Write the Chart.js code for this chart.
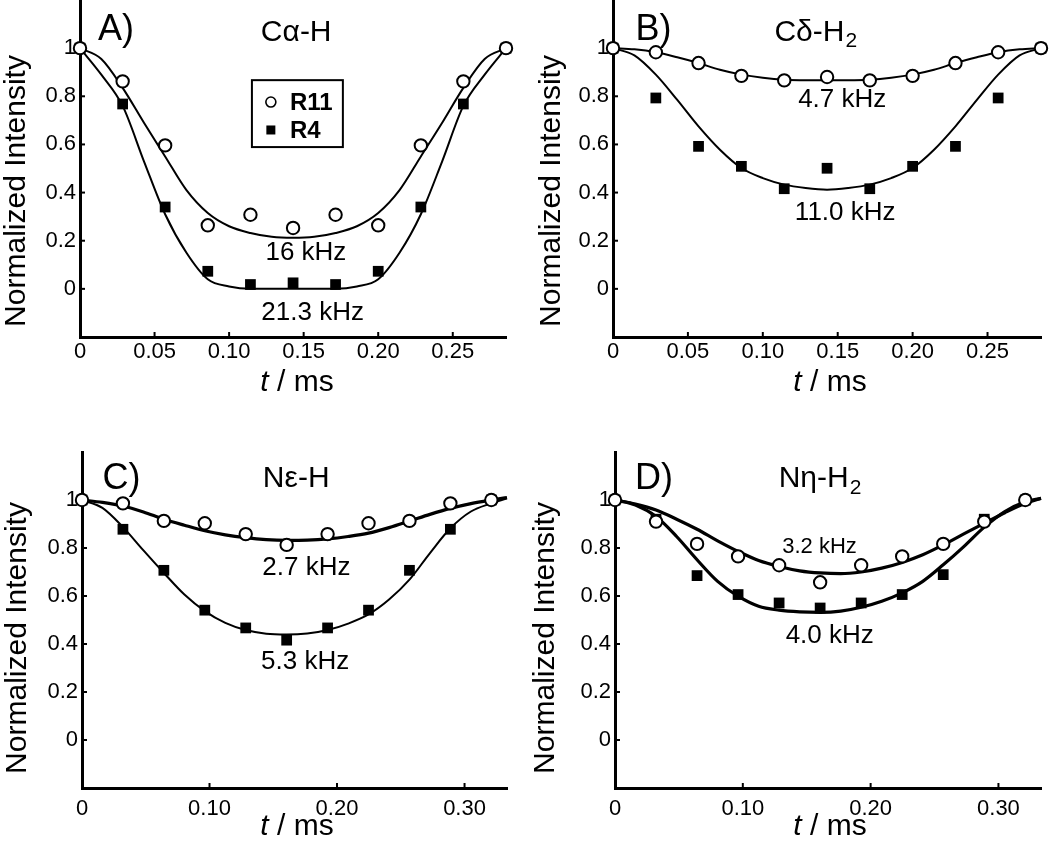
<!DOCTYPE html>
<html lang="en">
<head>
<meta charset="UTF-8">
<title>Normalized Intensity vs t</title>
<script src="https://cdn.jsdelivr.net/npm/chart.js"></script>
<style>
  body { margin: 0; background: #fff; }
  #wrap { position: relative; width: 1050px; height: 848px; }
  #wrap canvas { position: absolute; }
</style>
</head>
<body>
<div id="wrap">
  <canvas id="cA" width="525" height="424" style="left:0;top:0"></canvas>
  <canvas id="cB" width="525" height="424" style="left:525px;top:0"></canvas>
  <canvas id="cC" width="525" height="424" style="left:0;top:424px"></canvas>
  <canvas id="cD" width="525" height="424" style="left:525px;top:424px"></canvas>
</div>
<script>
// ---- data ----
// time points (ms)
const tAB = [0, 0.0286, 0.0571, 0.0857, 0.1143, 0.1429, 0.1714, 0.2, 0.2286, 0.2571, 0.2857];
const tCD = [0, 0.0321, 0.0642, 0.0963, 0.1284, 0.1605, 0.1926, 0.2247, 0.2568, 0.2889, 0.321];
// x positions of the fitted curves
const fitTAB = [0, 0.0143, 0.0286, 0.0429, 0.0571, 0.0714, 0.0857, 0.1, 0.1143, 0.1286, 0.1429,
                0.1571, 0.1714, 0.1857, 0.2, 0.2143, 0.2286, 0.2429, 0.2571, 0.2714, 0.2857];
const fitTCD = [0, 0.016, 0.0321, 0.0482, 0.0642, 0.0803, 0.0963, 0.1124, 0.1284, 0.1445, 0.1605,
                0.1766, 0.1926, 0.2087, 0.2247, 0.2408, 0.2568, 0.2729, 0.2889, 0.305, 0.321, 0.3333];

// A) C-alpha-H
const r11A = [1.0, 0.862, 0.596, 0.264, 0.308, 0.253, 0.308, 0.264, 0.596, 0.862, 1.0];
const r4A  = [1.0, 0.768, 0.340, 0.073, 0.018, 0.025, 0.018, 0.073, 0.340, 0.768, 1.0];
const fitA16 = [1.0, 0.955, 0.835, 0.69, 0.55, 0.41, 0.315, 0.26, 0.232, 0.216, 0.212,
                0.216, 0.232, 0.26, 0.315, 0.41, 0.55, 0.69, 0.835, 0.955, 1.0];
const fitA21 = [1.0, 0.89, 0.76, 0.53, 0.31, 0.15, 0.04, 0.01, 0.0, 0.0, 0.0,
                0.0, 0.0, 0.01, 0.04, 0.15, 0.31, 0.53, 0.76, 0.89, 1.0];

// B) C-delta-H2
const r11B = [1.0, 0.983, 0.938, 0.885, 0.866, 0.880, 0.866, 0.885, 0.938, 0.983, 1.0];
const r4B  = [1.0, 0.793, 0.592, 0.509, 0.416, 0.501, 0.416, 0.509, 0.592, 0.793, 1.0];
const fitB47 = [1.0, 0.995, 0.983, 0.962, 0.938, 0.91, 0.89, 0.877, 0.869, 0.867, 0.867,
                0.867, 0.869, 0.877, 0.89, 0.91, 0.938, 0.962, 0.983, 0.995, 1.0];
const fitB11 = [1.0, 0.97, 0.89, 0.785, 0.675, 0.578, 0.502, 0.46, 0.433, 0.419, 0.412,
                0.419, 0.433, 0.46, 0.502, 0.578, 0.675, 0.785, 0.89, 0.97, 1.0];

// C) N-epsilon-H
const r11C = [1.0, 0.986, 0.913, 0.903, 0.858, 0.813, 0.858, 0.903, 0.913, 0.986, 1.0];
const r4C  = [1.0, 0.878, 0.707, 0.541, 0.467, 0.416, 0.467, 0.541, 0.707, 0.878, 1.0];
const fitC27 = [1.0, 0.99, 0.975, 0.95, 0.92, 0.895, 0.872, 0.855, 0.843, 0.835, 0.832,
                0.833, 0.838, 0.848, 0.862, 0.885, 0.912, 0.94, 0.965, 0.985, 1.0, 1.01];
const fitC53 = [1.0, 0.967, 0.887, 0.79, 0.696, 0.606, 0.537, 0.488, 0.458, 0.443, 0.44,
                0.444, 0.458, 0.485, 0.523, 0.585, 0.668, 0.779, 0.882, 0.952, 0.986, 1.007];

// D) N-eta-H2
const r11D = [1.0, 0.910, 0.817, 0.765, 0.728, 0.657, 0.728, 0.765, 0.817, 0.910, 1.0];
const r4D  = [1.0, 0.92, 0.685, 0.606, 0.571, 0.550, 0.571, 0.606, 0.689, 0.92, 1.0];
const fitD32 = [1.0, 0.983, 0.958, 0.92, 0.878, 0.83, 0.786, 0.748, 0.723, 0.705, 0.696,
                0.693, 0.7, 0.716, 0.74, 0.772, 0.813, 0.859, 0.903, 0.947, 0.986, 1.007];
const fitD40 = [1.0, 0.979, 0.931, 0.848, 0.751, 0.661, 0.599, 0.557, 0.541, 0.534, 0.532,
                0.537, 0.553, 0.578, 0.613, 0.661, 0.730, 0.806, 0.887, 0.952, 0.993, 1.007];

// ticks
const yTicks = [0, 0.2, 0.4, 0.6, 0.8, 1];
const yTickLabels = ['0', '0.2', '0.4', '0.6', '0.8', '1'];
const xTicksAB = [0, 0.05, 0.10, 0.15, 0.20, 0.25];
const xTickLabelsAB = ['0', '0.05', '0.10', '0.15', '0.20', '0.25'];
const xTicksCD = [0, 0.10, 0.20, 0.30];
const xTickLabelsCD = ['0', '0.10', '0.20', '0.30'];

const FONT = '"Liberation Sans", Arial, Helvetica, sans-serif';

const pts = (xs, ys) => ys.map((v, i) => ({ x: xs[i], y: v }));

// inward tick marks + all free text (labels, headers, kHz notes, legend box)
const panelText = {
    id: 'panelText',
    beforeDatasetsDraw(chart) {
        const ctx = chart.ctx, a = chart.chartArea;
        const xs = chart.scales.x, ys = chart.scales.y;
        ctx.save();
        ctx.strokeStyle = '#000';
        ctx.lineWidth = 2;
        xs.ticks.forEach(t => {
            const x = xs.getPixelForValue(t.value);
            ctx.beginPath(); ctx.moveTo(x, a.bottom); ctx.lineTo(x, a.bottom - 5); ctx.stroke();
        });
        ys.ticks.forEach(t => {
            const y = ys.getPixelForValue(t.value);
            ctx.beginPath(); ctx.moveTo(a.left, y); ctx.lineTo(a.left + 5, y); ctx.stroke();
        });
        ctx.restore();
    },
    afterDatasetsDraw(chart, args, o) {
        const ctx = chart.ctx;
        const px = v => chart.scales.x.getPixelForValue(v);
        const py = v => chart.scales.y.getPixelForValue(v);
        ctx.save();
        ctx.fillStyle = '#000';
        ctx.textBaseline = 'middle';

        // panel letter
        ctx.font = '36px ' + FONT;
        ctx.textAlign = 'left';
        ctx.fillText(o.letter, px(o.letterAt[0]), py(o.letterAt[1]));

        // header, with optional subscript
        ctx.font = '30px ' + FONT;
        const w1 = ctx.measureText(o.header).width;
        ctx.font = '21px ' + FONT;
        const w2 = o.sub ? ctx.measureText(o.sub).width : 0;
        let hx = px(o.headerAt[0]) - (w1 + w2) / 2, hy = py(o.headerAt[1]);
        ctx.font = '30px ' + FONT;
        ctx.fillText(o.header, hx, hy);
        if (o.sub) {
            ctx.font = '21px ' + FONT;
            ctx.fillText(o.sub, hx + w1 + 1, hy + 9);
        }

        // coupling notes
        ctx.textAlign = 'center';
        o.notes.forEach(n => {
            ctx.font = n.size + 'px ' + FONT;
            ctx.fillText(n.text, px(n.at[0]), py(n.at[1]));
        });

        // legend box
        if (o.legend) {
            const L = o.legend;
            const x1 = px(L.box[0]), y1 = py(L.box[1]), x2 = px(L.box[2]), y2 = py(L.box[3]);
            ctx.lineWidth = 2;
            ctx.strokeStyle = '#000';
            ctx.strokeRect(x1, y1, x2 - x1, y2 - y1);
            ctx.font = 'bold 24px ' + FONT;
            ctx.textAlign = 'left';
            L.rows.forEach(r => {
                const mx = px(L.markX), my = py(r.y);
                if (r.style === 'circle') {
                    ctx.beginPath(); ctx.arc(mx, my, 5, 0, Math.PI * 2);
                    ctx.fillStyle = '#fff'; ctx.fill();
                    ctx.lineWidth = 1.6; ctx.stroke();
                } else {
                    ctx.fillStyle = '#000';
                    ctx.fillRect(mx - 4.5, my - 4.5, 9, 9);
                }
                ctx.fillStyle = '#000';
                ctx.fillText(r.text, px(L.textX), my + 1);
            });
        }

        // y title
        ctx.font = '30px ' + FONT;
        ctx.textAlign = 'center';
        ctx.save();
        ctx.translate(o.yTitleAt[0], o.yTitleAt[1]);
        ctx.rotate(-Math.PI / 2);
        ctx.fillText('Normalized Intensity', 0, 0);
        ctx.restore();

        // x title: italic t + " / ms"
        ctx.textAlign = 'left';
        ctx.font = 'italic 30px ' + FONT;
        const tw = ctx.measureText('t').width;
        ctx.font = '30px ' + FONT;
        const rw = ctx.measureText(' / ms').width;
        const sx = o.xTitleAt[0] - (tw + rw) / 2;
        ctx.font = 'italic 30px ' + FONT;
        ctx.fillText('t', sx, o.xTitleAt[1]);
        ctx.font = '30px ' + FONT;
        ctx.fillText(' / ms', sx + tw, o.xTitleAt[1]);
        ctx.restore();
    }
};

function makePanel(id, p) {
    const datasets = [
        { label: 'R11', data: pts(p.t, p.r11), showLine: false, pointStyle: 'circle',
          pointRadius: 6.2, pointBorderWidth: 2, pointBackgroundColor: '#fff',
          pointBorderColor: '#000', order: 0, clip: false },
        { label: 'R4', data: pts(p.t, p.r4), showLine: false, pointStyle: 'rect',
          pointRadius: 7.6, pointBorderWidth: 0, pointBackgroundColor: '#000',
          pointBorderColor: '#000', order: 1, clip: false },
        { label: 'fit R11', data: pts(p.fitT, p.fit1), showLine: true, pointRadius: 0,
          borderColor: '#000', borderWidth: p.lw1, cubicInterpolationMode: 'monotone',
          order: 2, clip: false },
        { label: 'fit R4', data: pts(p.fitT, p.fit2), showLine: true, pointRadius: 0,
          borderColor: '#000', borderWidth: p.lw2, cubicInterpolationMode: 'monotone',
          order: 3, clip: false }
    ];
    new Chart(document.getElementById(id), {
        type: 'scatter',
        data: { datasets },
        options: {
            responsive: false,
            animation: false,
            events: [],
            layout: { autoPadding: false,
                      padding: { top: p.top, right: p.right, left: 0, bottom: 0 } },
            scales: {
                x: {
                    type: 'linear', min: 0, max: p.xMax,
                    border: { display: true, color: '#000', width: 3 },
                    grid: { display: false, drawTicks: false },
                    ticks: { color: '#000', font: { family: FONT, size: 22 }, padding: p.xPad,
                             autoSkip: false, maxRotation: 0,
                             callback: (v, i) => p.xLabels[i] },
                    afterBuildTicks: s => { s.ticks = p.xTicks.map(v => ({ value: v })); },
                    afterFit: s => { s.height = p.xAxisH; s.paddingLeft = 0; s.paddingRight = 0; }
                },
                y: {
                    type: 'linear', min: -0.2, max: 1.2,
                    border: { display: true, color: '#000', width: 3 },
                    grid: { display: false, drawTicks: false },
                    ticks: { color: '#000', font: { family: FONT, size: 22 }, padding: 4,
                             autoSkip: false,
                             callback: (v, i) => yTickLabels[i] },
                    afterBuildTicks: s => { s.ticks = yTicks.map(v => ({ value: v })); },
                    afterFit: s => { s.width = p.left; s.paddingTop = 0; s.paddingBottom = 0; }
                }
            },
            plugins: {
                legend: { display: false },
                tooltip: { enabled: false },
                panelText: p.text
            }
        },
        plugins: [panelText]
    });
}

makePanel('cA', {
    t: tAB, r11: r11A, r4: r4A, fitT: fitTAB, fit1: fitA16, fit2: fitA21, lw1: 2, lw2: 2,
    xMax: 0.2857, xTicks: xTicksAB, xLabels: xTickLabelsAB,
    left: 80, right: 19, top: 0, xAxisH: 87, xPad: 2,
    text: {
        letter: 'A)', letterAt: [0.012, 1.075],
        header: 'C\u03B1-H', headerAt: [0.145, 1.066],
        notes: [{ text: '16 kHz', at: [0.1515, 0.149], size: 26 },
                { text: '21.3 kHz', at: [0.156, -0.10], size: 26 }],
        legend: { box: [0.1153, 0.867, 0.1763, 0.589], markX: 0.128, textX: 0.1408,
                  rows: [{ style: 'circle', y: 0.776, text: 'R11' },
                         { style: 'rect', y: 0.66, text: 'R4' }] },
        yTitleAt: [17, 191], xTitleAt: [297, 383]
    }
});

makePanel('cB', {
    t: tAB, r11: r11B, r4: r4B, fitT: fitTAB, fit1: fitB47, fit2: fitB11, lw1: 2, lw2: 2,
    xMax: 0.2857, xTicks: xTicksAB, xLabels: xTickLabelsAB,
    left: 88, right: 9, top: 0, xAxisH: 87, xPad: 2,
    text: {
        letter: 'B)', letterAt: [0.015, 1.075],
        header: 'C\u03B4-H', sub: '2', headerAt: [0.135, 1.066],
        notes: [{ text: '4.7 kHz', at: [0.153, 0.784], size: 26 },
                { text: '11.0 kHz', at: [0.155, 0.315], size: 26 }],
        yTitleAt: [27, 191], xTitleAt: [305, 383]
    }
});

makePanel('cC', {
    t: tCD, r11: r11C, r4: r4C, fitT: fitTCD, fit1: fitC27, fit2: fitC53, lw1: 3.2, lw2: 2,
    xMax: 0.3333, xTicks: xTicksCD, xLabels: xTickLabelsCD,
    left: 82, right: 18, top: 28, xAxisH: 60, xPad: 8,
    text: {
        letter: 'C)', letterAt: [0.016, 1.087],
        header: 'N\u03B5-H', headerAt: [0.168, 1.087],
        notes: [{ text: '2.7 kHz', at: [0.176, 0.718], size: 26 },
                { text: '5.3 kHz', at: [0.175, 0.324], size: 26 }],
        yTitleAt: [18, 214], xTitleAt: [297, 403]
    }
});

makePanel('cD', {
    t: tCD, r11: r11D, r4: r4D, fitT: fitTCD, fit1: fitD32, fit2: fitD40, lw1: 3.2, lw2: 3.2,
    xMax: 0.3333, xTicks: xTicksCD, xLabels: xTickLabelsCD,
    left: 90, right: 9, top: 28, xAxisH: 60, xPad: 8,
    text: {
        letter: 'D)', letterAt: [0.0156, 1.087],
        header: 'N\u03B7-H', sub: '2', headerAt: [0.16, 1.087],
        notes: [{ text: '3.2 kHz', at: [0.160, 0.805], size: 22 },
                { text: '4.0 kHz', at: [0.168, 0.432], size: 26 }],
        yTitleAt: [21, 214], xTitleAt: [305, 403]
    }
});
</script>
</body>
</html>
